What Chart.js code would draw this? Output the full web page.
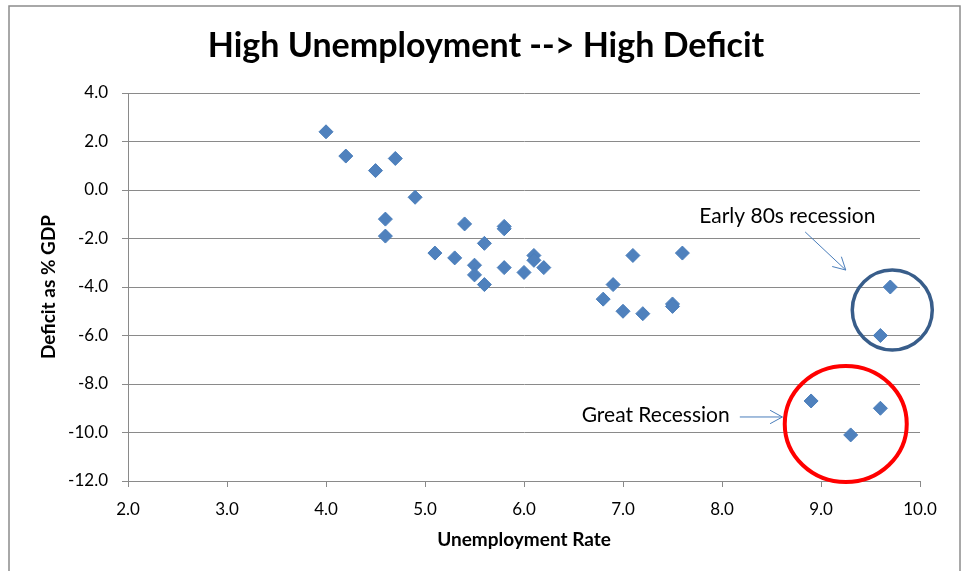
<!DOCTYPE html>
<html>
<head>
<meta charset="utf-8">
<script src="https://cdn.jsdelivr.net/npm/chart.js@4.4.1/dist/chart.umd.min.js"></script>
<style>
  html, body { margin: 0; padding: 0; background: #fff; }
  #chart { display: block; }
</style>
</head>
<body>
<canvas id="chart" width="963" height="571"></canvas>
<script>
// ── Data ─────────────────────────────────────────────────
const unemployment = [4.0, 4.2, 4.5, 4.7, 4.9, 4.6, 4.6, 5.4, 5.8, 5.8, 5.6, 5.1, 5.3, 5.5, 5.5, 5.6, 5.8,
  6.0, 6.1, 6.1, 6.2, 6.8, 6.9, 7.0, 7.1, 7.2, 7.5, 7.5, 7.6, 9.7, 9.6, 8.9, 9.3, 9.6];
const deficit = [2.4, 1.4, 0.8, 1.3, -0.3, -1.2, -1.9, -1.4, -1.5, -1.6, -2.2, -2.6, -2.8, -3.1, -3.5, -3.9, -3.2,
  -3.4, -2.7, -2.9, -3.2, -4.5, -3.9, -5.0, -2.7, -5.1, -4.7, -4.8, -2.6, -4.0, -6.0, -8.7, -10.1, -9.0];

const xTicks = [2, 3, 4, 5, 6, 7, 8, 9, 10];
const yTicks = [4, 2, 0, -2, -4, -6, -8, -10, -12];

const TITLE = 'High Unemployment --> High Deficit';
const FONT = "Lato, 'Open Sans', sans-serif";
const GRID = '#8a8a8a';

// annotations, placed in data units
const circles = [
  { x: 9.72, y: -4.95, rx: 40, ry: 40, color: '#385D8A', width: 3.5 },
  { x: 9.25, y: -9.65, rx: 61, ry: 58, color: '#FF0000', width: 4 },
];
const notes = [
  { text: 'Early 80s recession', x: 8.66, y: -1.07 },
  { text: 'Great Recession', x: 7.33, y: -9.3 },
];
const arrows = [
  { from: [8.84, -1.73], to: [9.25, -3.3] },
  { from: [8.18, -9.36], to: [8.61, -9.36] },
];

const points = unemployment.map((u, i) => ({ x: u, y: deficit[i] }));

// frame + title (title centred on the whole object, not the padded area)
const framePlugin = {
  id: 'frame',
  beforeDraw(chart) {
    const ctx = chart.ctx;
    ctx.save();
    ctx.fillStyle = '#fff';
    ctx.fillRect(0, 0, chart.width, chart.height);
    ctx.strokeStyle = '#8c8c8c';
    ctx.lineWidth = 1.5;
    ctx.strokeRect(9, 6, 951, 620);
    ctx.fillStyle = '#000';
    ctx.font = `bold 34px ${FONT}`;
    ctx.textAlign = 'center';
    ctx.textBaseline = 'middle';
    ctx.fillText(TITLE, 486, 46);
    ctx.restore();
  },
};

const notesPlugin = {
  id: 'notes',
  afterDraw(chart) {
    const { ctx, scales: { x, y } } = chart;
    ctx.save();
    circles.forEach(c => {
      ctx.beginPath();
      ctx.ellipse(x.getPixelForValue(c.x), y.getPixelForValue(c.y), c.rx, c.ry, 0, 0, Math.PI * 2);
      ctx.strokeStyle = c.color;
      ctx.lineWidth = c.width;
      ctx.stroke();
    });
    ctx.strokeStyle = '#4A7EBB';
    ctx.lineWidth = 1;
    arrows.forEach(a => {
      const x0 = x.getPixelForValue(a.from[0]), y0 = y.getPixelForValue(a.from[1]);
      const x1 = x.getPixelForValue(a.to[0]), y1 = y.getPixelForValue(a.to[1]);
      const ang = Math.atan2(y1 - y0, x1 - x0);
      const len = 14, spread = 0.5;
      ctx.beginPath();
      ctx.moveTo(x0, y0);
      ctx.lineTo(x1, y1);
      ctx.moveTo(x1 - len * Math.cos(ang - spread), y1 - len * Math.sin(ang - spread));
      ctx.lineTo(x1, y1);
      ctx.lineTo(x1 - len * Math.cos(ang + spread), y1 - len * Math.sin(ang + spread));
      ctx.stroke();
    });
    ctx.fillStyle = '#000';
    ctx.font = `21px ${FONT}`;
    ctx.textAlign = 'center';
    ctx.textBaseline = 'middle';
    notes.forEach(n => ctx.fillText(n.text, x.getPixelForValue(n.x), y.getPixelForValue(n.y)));
    ctx.restore();
  },
};

new Chart(document.getElementById('chart'), {
  type: 'scatter',
  data: {
    datasets: [{
      data: points,
      pointStyle: 'rectRot',
      pointRadius: 7,
      pointHoverRadius: 7,
      backgroundColor: '#4F81BD',
      borderColor: '#4A7EBB',
      borderWidth: 1,
    }],
  },
  options: {
    responsive: false,
    animation: false,
    devicePixelRatio: 1,
    layout: { padding: { left: 0, right: 43, top: 93, bottom: 0 } },
    plugins: {
      legend: { display: false },
      tooltip: { enabled: false },
      title: { display: false },
    },
    scales: {
      x: {
        type: 'linear',
        min: 2, max: 10,
        afterFit: s => { s.height = 90; },
        afterBuildTicks: s => { s.ticks = xTicks.map(v => ({ value: v })); },
        grid: { drawOnChartArea: false, drawTicks: true, tickLength: 6, color: GRID },
        border: { display: true, color: GRID, width: 1 },
        ticks: {
          color: '#000', padding: 12,
          font: { family: FONT, size: 17 },
          callback: v => v.toFixed(1),
        },
        title: {
          display: true, text: 'Unemployment Rate', color: '#000',
          font: { family: FONT, size: 19, weight: 'bold', lineHeight: 1.2 },
          padding: { top: 0, bottom: 20 },
        },
      },
      y: {
        type: 'linear',
        min: -12, max: 4,
        afterFit: s => { s.width = 128; },
        afterBuildTicks: s => { s.ticks = yTicks.map(v => ({ value: v })); },
        grid: { color: GRID, lineWidth: 1, drawTicks: true, tickLength: 6 },
        border: { display: true, color: GRID, width: 1 },
        ticks: {
          color: '#000', padding: 14,
          font: { family: FONT, size: 17 },
          callback: v => v.toFixed(1),
        },
        title: {
          display: true, text: 'Deficit as % GDP', color: '#000',
          font: { family: FONT, size: 19, weight: 'bold', lineHeight: 1.2 },
          padding: { top: 37, bottom: 0 },
        },
      },
    },
  },
  plugins: [framePlugin, notesPlugin],
});
</script>
</body>
</html>
